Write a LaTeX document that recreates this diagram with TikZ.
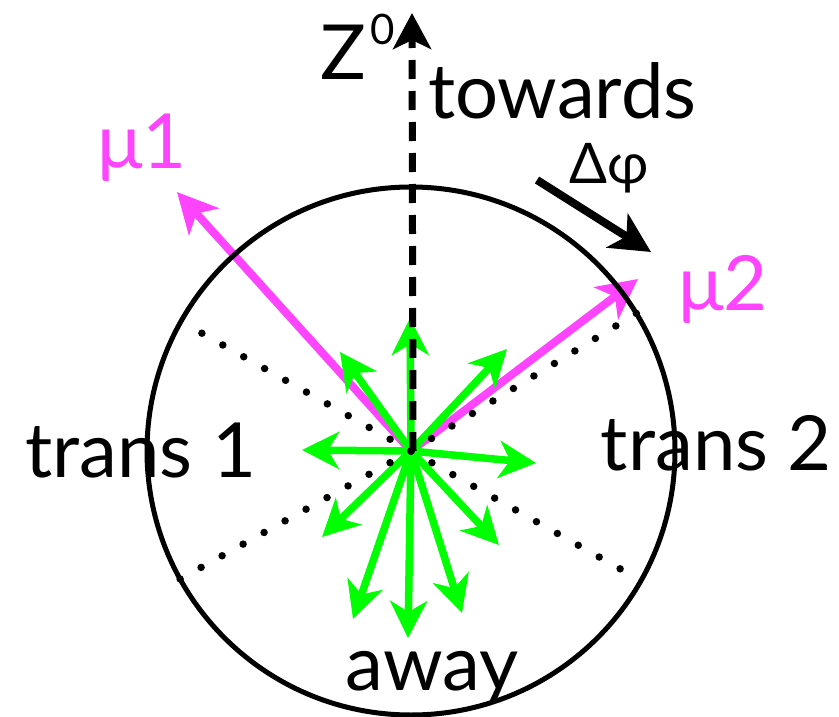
\documentclass[tikz,border=0pt]{standalone}
\usepackage{fontspec}
\setmainfont{Lato}
\usetikzlibrary{arrows.meta}
\definecolor{mag}{HTML}{FF44FF}
\definecolor{grn}{HTML}{00FF00}
\begin{document}
\begin{tikzpicture}[x=1pt,y=-1pt,
  big/.style={font=\fontsize{76}{80}\selectfont, inner sep=0pt},
  mid/.style={font=\fontsize{56}{60}\selectfont, inner sep=0pt},
  garrow/.style={draw=grn, line width=7.5pt, -{Stealth[length=37pt,width=37pt,inset=11pt]}},
  marrow/.style={draw=mag, line width=8pt, -{Stealth[length=40pt,width=40pt,inset=11pt]}},
  karrow/.style={draw=black, line width=8pt, -{Stealth[length=40pt,width=40pt,inset=11pt]}},
  dashedarrow/.style={draw=black, line width=7pt, dash pattern=on 19pt off 12pt, -{Stealth[length=36pt,width=38pt,inset=9pt]}},
  dotline/.style={draw=black, line width=7.5pt, line cap=round, dash pattern=on 0pt off 24pt},
  rim/.style={draw=black, line width=5pt}
]
\useasboundingbox (0,0) rectangle (839,717);
\coordinate (O) at (411,451);
% dotted lines
\coordinate (d1) at (182,322);
\coordinate (d2) at (640,580);
\coordinate (d3) at (642,310);
\coordinate (d4) at (173,583);
% magenta muon arrows
\coordinate (m1) at (177,192);
\coordinate (m2) at (638,279);
\draw[marrow] (O) -- (m1);
\draw[marrow] (O) -- (m2);
% green arrows
\coordinate (g1) at (410,318);
\coordinate (g2) at (340,352);
\coordinate (g3) at (507,349);
\coordinate (g4) at (302,450);
\coordinate (g5) at (536,463);
\coordinate (g6) at (322,537);
\coordinate (g7) at (499,545);
\coordinate (g8) at (353,619);
\coordinate (g9) at (408,638);
\coordinate (g10) at (462,613);
\draw[garrow] (O) -- (g1);
\draw[garrow] (O) -- (g2);
\draw[garrow] (O) -- (g3);
\draw[garrow] (O) -- (g4);
\draw[garrow] (O) -- (g5);
\draw[garrow] (O) -- (g6);
\draw[garrow] (O) -- (g7);
\draw[garrow] (O) -- (g8);
\draw[garrow] (O) -- (g9);
\draw[garrow] (O) -- (g10);
% circle
\draw[rim] (O) circle[radius=264pt];
% dotted lines
\draw[dotline] (O) -- (d1);
\draw[dotline] (O) -- (d2);
\draw[dotline] (O) -- (d3);
\draw[dotline] (O) -- (d4);
% Z0 dashed arrow
\coordinate (zt) at (412,13);
\coordinate (zb) at (413,451);
\draw[dashedarrow] (zb) -- (zt);
% delta phi arrow
\coordinate (pa) at (537,180);
\coordinate (pb) at (651,252);
\draw[karrow] (pa) -- (pb);
% labels
\node[big, anchor=base west] (zlab) at (320,80) {Z\hspace{5pt}\raisebox{35pt}{\fontsize{42}{44}\selectfont 0}};
\node[big, anchor=base west] (tow) at (428,118) {towards};
\node[mid, anchor=base] (dphi) at (609,183) {Δφ};
\node[big, anchor=base, text=mag] (mu1) at (142,168) {μ1};
\node[big, anchor=base west, text=mag] (mu2) at (678,310) {μ2};
\node[big, anchor=base west] (tr1) at (25,477) {trans 1};
\node[big, anchor=base east] (tr2) at (832,470) {trans 2};
\node[big, anchor=base] (away) at (432,690) {away};
\end{tikzpicture}
\end{document}
